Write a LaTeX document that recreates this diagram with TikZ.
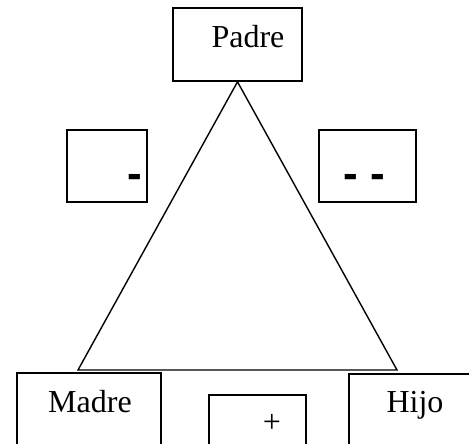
\documentclass[tikz,border=0pt]{standalone}
\usepackage{fontspec}
\setmainfont{Liberation Serif}
\newfontfamily\signfont{Liberation Sans}
\usetikzlibrary{positioning}

\begin{document}
\begin{tikzpicture}[x=1pt,y=-1pt,
  box/.style={draw,line width=1.6pt,inner sep=0pt},
  basebox/.style={draw,line width=2.8pt,inner sep=0pt},
  tri/.style={line width=1.4pt,line join=miter},
  word/.style={font=\fontsize{32}{32}\selectfont,inner sep=0pt,anchor=base},
  sign/.style={font=\signfont\bfseries\fontsize{44}{44}\selectfont,inner sep=0pt,anchor=base}]
  \useasboundingbox (0,0) rectangle (469,444);
  \clip (0,0) rectangle (469,444);
  % top of the triangle
  \node[box,minimum width=129pt,minimum height=73pt] (padre) at (237.5,44.5) {};
  \node[word] (padretxt) at (248,48) {Padre};
  % side boxes
  \node[box,minimum width=80pt,minimum height=72pt] (izq) at (107,166) {};
  \node[sign] (izqtxt) at (135,188) {-};
  \node[box,minimum width=97pt,minimum height=72pt] (der) at (367.5,166) {};
  \node[sign] (dertxt) at (364.5,188) {- -};
  % bottom row, running off the page
  \node[basebox,minimum width=144pt,minimum height=97pt] (madre) at (89,421.5) {};
  \node[word] (madretxt) at (90,412) {Madre};
  \node[basebox,minimum width=97pt,minimum height=75pt] (mas) at (257.5,432.5) {};
  \node[word] (mastxt) at (272,432) {+};
  \node[basebox,minimum width=151pt,minimum height=96pt] (hijo) at (424.5,422) {};
  \node[word] (hijotxt) at (415,412) {Hijo};
  % the triangle
  \coordinate (lcorner) at (78,370);
  \coordinate (rcorner) at (397,370);
  \draw[tri] (padre.south) -- (lcorner) -- (rcorner) -- cycle;
\end{tikzpicture}
\end{document}
